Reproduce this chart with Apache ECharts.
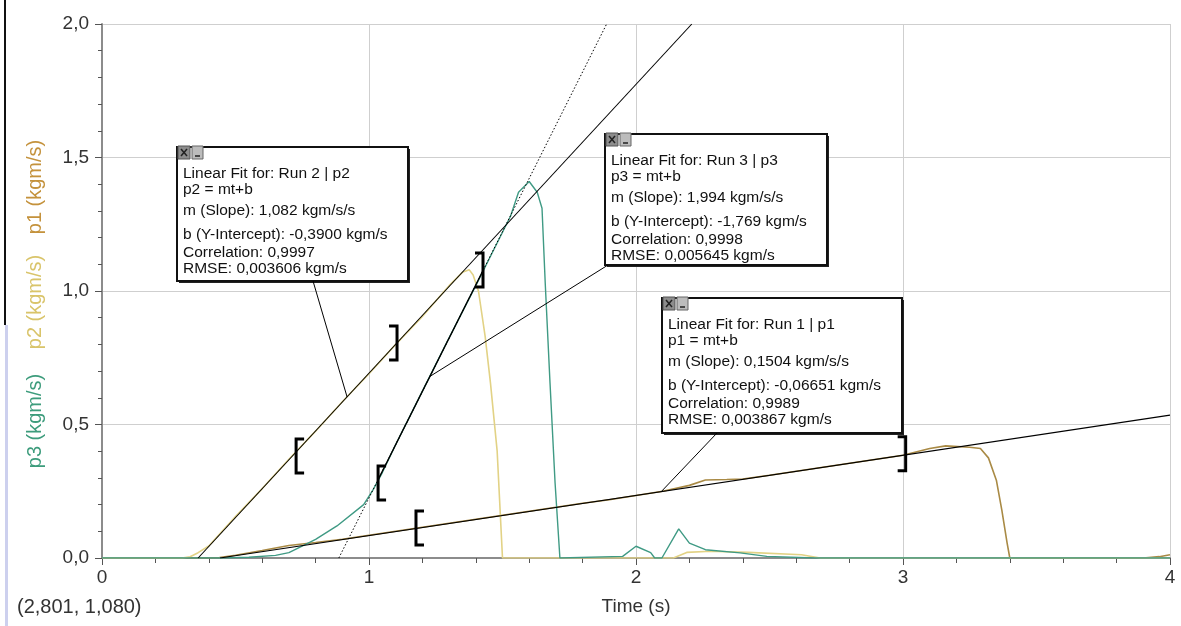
<!DOCTYPE html>
<html><head><meta charset="utf-8">
<script src="https://cdn.jsdelivr.net/npm/echarts@6/dist/echarts.min.js"></script>
<style>html,body{margin:0;padding:0;background:#fff;}#c{width:1181px;height:626px;}</style>
</head><body><div id="c"></div>
<script>
// ---------- data ----------
const xTickLabels = ['0', '1', '2', '3', '4'];
const yTickLabels = ['0,0', '0,5', '1,0', '1,5', '2,0'];
const xTitle = 'Time (s)';
const yTitles = ['p1 (kgm/s)', 'p2 (kgm/s)', 'p3 (kgm/s)'];
const cursorText = '(2,801, 1,080)';

// Run 1 | p1
const t1 = [0, 0.40, 0.44, 0.50, 0.60, 0.70, 0.80, 0.90, 1.00, 1.10, 1.20, 1.30, 1.40, 1.50, 1.60, 1.70, 1.80, 1.90, 2.00, 2.10, 2.20, 2.26, 2.34, 2.40, 2.50, 2.60, 2.70, 2.80, 2.90, 3.00, 3.10, 3.16, 3.25, 3.29, 3.32, 3.35, 3.37, 3.39, 3.40, 3.90, 3.96, 4.00];
const p1 = [0, 0, 0.002, 0.010, 0.028, 0.047, 0.058, 0.070, 0.085, 0.100, 0.115, 0.130, 0.145, 0.160, 0.175, 0.190, 0.205, 0.218, 0.234, 0.250, 0.272, 0.292, 0.294, 0.296, 0.310, 0.325, 0.340, 0.355, 0.370, 0.385, 0.410, 0.420, 0.415, 0.410, 0.375, 0.290, 0.180, 0.056, 0, 0, 0.005, 0.012];
// Run 2 | p2
const t2 = [0, 0.30, 0.33, 0.36, 0.40, 0.45, 0.50, 0.60, 0.70, 0.80, 0.90, 1.00, 1.10, 1.20, 1.30, 1.35, 1.375, 1.39, 1.41, 1.435, 1.455, 1.48, 1.50, 2.14, 2.19, 2.28, 2.42, 2.62, 2.69, 4.00];
const p2 = [0, 0, 0.005, 0.020, 0.045, 0.100, 0.155, 0.260, 0.370, 0.475, 0.585, 0.690, 0.800, 0.905, 1.020, 1.070, 1.080, 1.060, 1.000, 0.830, 0.655, 0.400, 0, 0, 0.021, 0.025, 0.021, 0.012, 0, 0];
// Run 3 | p3
const t3 = [0, 0.45, 0.55, 0.65, 0.70, 0.74, 0.80, 0.88, 0.98, 1.015, 1.05, 1.10, 1.20, 1.30, 1.40, 1.50, 1.53, 1.56, 1.60, 1.63, 1.648, 1.66, 1.678, 1.697, 1.715, 1.95, 2.00, 2.055, 2.07, 2.097, 2.16, 2.20, 2.26, 2.39, 2.49, 2.67, 4.00];
const p3 = [0, 0, 0.003, 0.010, 0.020, 0.040, 0.070, 0.120, 0.200, 0.255, 0.320, 0.425, 0.625, 0.825, 1.020, 1.220, 1.280, 1.370, 1.410, 1.370, 1.310, 1.030, 0.655, 0.280, 0, 0.006, 0.044, 0.020, 0, 0, 0.109, 0.056, 0.031, 0.019, 0.006, 0, 0];

// linear-fit lines (end points)
const fit1 = [[0.442, 0], [4.0, 0.535]];
const fit2 = [[0.360, 0], [2.209, 2.0]];
const fit3Solid = [[1.034, 0.293], [1.427, 1.077]];
const fit3Dotted = [[0.887, 0], [1.890, 2.0]];
// fit range brackets: [t, value, side (-1 = "[", 1 = "]")]
const brackets = [[0.727, 0.382, -1], [1.105, 0.805, 1], [1.034, 0.281, -1], [1.427, 1.079, 1], [1.176, 0.112, -1], [3.010, 0.390, 1]];

// fit result boxes: text and the point on the fit line the leader points to
const fitText2 = ['Linear Fit for: Run 2 | p2', 'p2 = mt+b', 'm (Slope): 1,082 kgm/s/s', 'b (Y-Intercept): -0,3900 kgm/s', 'Correlation: 0,9997', 'RMSE: 0,003606 kgm/s'];
const fitText3 = ['Linear Fit for: Run 3 | p3', 'p3 = mt+b', 'm (Slope): 1,994 kgm/s/s', 'b (Y-Intercept): -1,769 kgm/s', 'Correlation: 0,9998', 'RMSE: 0,005645 kgm/s'];
const fitText1 = ['Linear Fit for: Run 1 | p1', 'p1 = mt+b', 'm (Slope): 0,1504 kgm/s/s', 'b (Y-Intercept): -0,06651 kgm/s', 'Correlation: 0,9989', 'RMSE: 0,003867 kgm/s'];
const leaderAnchor2 = [0.918, 0.603];
const leaderAnchor3 = [1.228, 0.680];
const leaderAnchor1 = [2.094, 0.248];

// ---------- layout / styles ----------
const C1 = '#a98a45', C2 = '#e2d285', C3 = '#3f9a84';
const T1 = '#c4923c', T2 = '#d9c46a', T3 = '#3d9c7c';
const FONT = '"Liberation Sans", Arial, sans-serif';
const boxLayout = [
  {text: fitText2, anchor: leaderAnchor2, x: 177, y: 147, w: 231, h: 134, lx: 136},
  {text: fitText3, anchor: leaderAnchor3, x: 605, y: 134, w: 222, h: 131, lx: 3},
  {text: fitText1, anchor: leaderAnchor1, x: 662, y: 298, w: 240, h: 135, lx: 55}
];
const lineOffsets = [27, 43, 64, 88, 106, 122];

const zip = (a, b) => a.map((v, i) => [v, b[i]]);
const chart = echarts.init(document.getElementById('c'), null, {renderer: 'canvas'});

const option = {
  animation: false,
  backgroundColor: '#fff',
  grid: {left: 102, right: 11, top: 24, bottom: 68, containLabel: false, outerBoundsMode: 'none'},
  xAxis: {
    type: 'value', min: 0, max: 4, interval: 1,
    name: xTitle, nameLocation: 'middle', nameGap: 39,
    nameTextStyle: {fontFamily: FONT, fontSize: 19, color: '#333'},
    axisLine: {show: true, onZero: false, lineStyle: {color: '#8c8c8c', width: 2}},
    axisTick: {show: true, length: 7, lineStyle: {color: '#555', width: 1}},
    minorTick: {show: true, splitNumber: 5, length: 5, lineStyle: {color: '#555', width: 1}},
    axisLabel: {margin: 10, fontFamily: FONT, fontSize: 19, color: '#333',
      formatter: v => xTickLabels[Math.round(v)]},
    splitLine: {show: true, lineStyle: {color: '#cfcfcf', width: 1}}
  },
  yAxis: {
    type: 'value', min: 0, max: 2, interval: 0.5,
    axisLine: {show: true, onZero: false, lineStyle: {color: '#8c8c8c', width: 2}},
    axisTick: {show: true, length: 7, lineStyle: {color: '#555', width: 1}},
    minorTick: {show: true, splitNumber: 5, length: 4, lineStyle: {color: '#555', width: 1}},
    axisLabel: {margin: 13, fontFamily: FONT, fontSize: 19, color: '#333',
      formatter: v => yTickLabels[Math.round(v / 0.5)]},
    splitLine: {show: true, lineStyle: {color: '#cfcfcf', width: 1}}
  },
  series: [
    {name: 'p1', type: 'line', data: zip(t1, p1), showSymbol: false, z: 2,
      lineStyle: {color: C1, width: 1.6}},
    {name: 'p2', type: 'line', data: zip(t2, p2), showSymbol: false, z: 2,
      lineStyle: {color: C2, width: 1.6}},
    {name: 'p3', type: 'line', data: zip(t3, p3), showSymbol: false, z: 2,
      lineStyle: {color: C3, width: 1.4}},
    {name: 'fit1', type: 'line', data: fit1, showSymbol: false, z: 3,
      lineStyle: {color: '#000', width: 1.2}},
    {name: 'fit2', type: 'line', data: fit2, showSymbol: false, z: 3,
      lineStyle: {color: '#000', width: 1.1}},
    {name: 'fit3d', type: 'line', data: fit3Dotted, showSymbol: false, z: 3,
      lineStyle: {color: '#000', width: 1, type: [1.5, 2]}},
    {name: 'fit3', type: 'line', data: fit3Solid, showSymbol: false, z: 3,
      lineStyle: {color: '#000', width: 1.4}},
    {name: 'brackets', type: 'custom', data: brackets, z: 4,
      renderItem: (params, api) => {
        const p = api.coord([api.value(0), api.value(1)]);
        const s = api.value(2), h = 17, w = 8;
        const x = p[0], y = p[1];
        return {type: 'polyline',
          shape: {points: [[x - s * w, y - h], [x, y - h], [x, y + h], [x - s * w, y + h]]},
          style: {stroke: '#000', lineWidth: 3, fill: null}};
      }}
  ]
};
chart.setOption(option);

// ---------- annotations ----------
const g = [];
// window border at far left
g.push({type: 'rect', shape: {x: 4, y: 0, width: 2, height: 325}, style: {fill: '#111'}, z: 10});
g.push({type: 'rect', shape: {x: 5, y: 325, width: 3, height: 301}, style: {fill: '#cdd0ee'}, z: 10});
// y axis titles
const yTitleCols = [T1, T2, T3];
const yTitleY = [187, 302, 421];
yTitles.forEach((s, i) => g.push({type: 'text', x: 35, y: yTitleY[i], rotation: Math.PI / 2, z: 10,
  style: {text: s, fill: yTitleCols[i], font: '20px ' + FONT, align: 'center', verticalAlign: 'middle'}}));
// cursor readout
g.push({type: 'text', x: 17, y: 607, z: 10,
  style: {text: cursorText, fill: '#333', font: '20px ' + FONT, align: 'left', verticalAlign: 'middle'}});

boxLayout.forEach(b => {
  const a = chart.convertToPixel({gridIndex: 0}, b.anchor);
  g.push({type: 'line', z: 20, shape: {x1: b.x + b.lx, y1: b.y + b.h, x2: a[0], y2: a[1]},
    style: {stroke: '#000', lineWidth: 1}});
  const children = [];
  children.push({type: 'rect', shape: {x: b.x + 2, y: b.y + 2, width: b.w, height: b.h}, style: {fill: '#222'}});
  children.push({type: 'rect', shape: {x: b.x, y: b.y, width: b.w, height: b.h}, style: {fill: '#fff', stroke: '#111', lineWidth: 2}});
  b.text.forEach((s, i) => children.push({type: 'text', x: b.x + 6, y: b.y + lineOffsets[i],
    style: {text: s, fill: '#111', font: '15.5px ' + FONT, align: 'left', verticalAlign: 'middle'}}));
  // close / minimise buttons
  children.push({type: 'rect', shape: {x: b.x + 1, y: b.y - 1, width: 12, height: 13}, style: {fill: '#8d8d8d', stroke: '#555', lineWidth: 1}});
  children.push({type: 'line', shape: {x1: b.x + 4, y1: b.y + 2, x2: b.x + 10, y2: b.y + 9}, style: {stroke: '#222', lineWidth: 1.5}});
  children.push({type: 'line', shape: {x1: b.x + 10, y1: b.y + 2, x2: b.x + 4, y2: b.y + 9}, style: {stroke: '#222', lineWidth: 1.5}});
  children.push({type: 'rect', shape: {x: b.x + 15, y: b.y - 1, width: 11, height: 13}, style: {fill: '#bcbcbc', stroke: '#666', lineWidth: 1}});
  children.push({type: 'line', shape: {x1: b.x + 18, y1: b.y + 9, x2: b.x + 23, y2: b.y + 9}, style: {stroke: '#222', lineWidth: 1.5}});
  g.push({type: 'group', z: 30, children});
});
chart.setOption({graphic: g});
</script></body></html>
